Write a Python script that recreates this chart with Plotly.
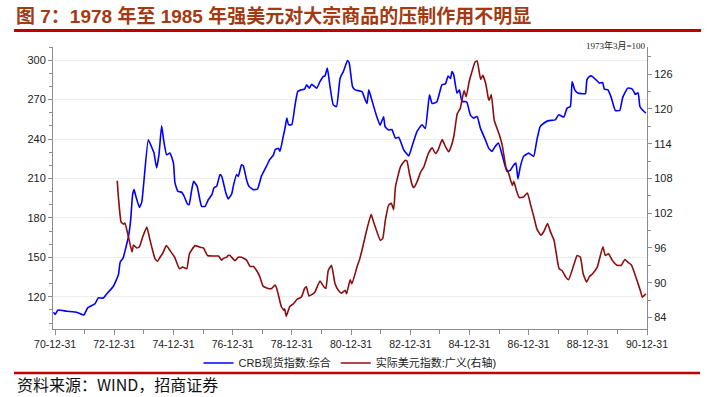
import plotly.graph_objects as go

# ---------------- data ----------------
# x positions as decimal years (1971.0 == 70-12-31)
crb_t = [1970.95, 1971.0, 1971.1, 1971.39, 1971.73, 1971.9, 1971.98, 1972.1, 1972.35, 1972.46,
         1972.63, 1972.75, 1972.97, 1973.14, 1973.2, 1973.3, 1973.48, 1973.55, 1973.62, 1973.67,
         1973.73, 1973.85, 1973.93, 1974.15, 1974.3, 1974.34, 1974.43, 1974.51, 1974.6, 1974.67,
         1974.77, 1974.88, 1975.0, 1975.05, 1975.15, 1975.28, 1975.35, 1975.47, 1975.53, 1975.6,
         1975.68, 1975.8, 1975.95, 1976.07, 1976.18, 1976.3, 1976.37, 1976.46, 1976.57, 1976.63,
         1976.77, 1976.85, 1976.97, 1977.02, 1977.13, 1977.19, 1977.3, 1977.36, 1977.47, 1977.55,
         1977.7, 1977.84, 1977.97, 1978.14, 1978.25, 1978.38, 1978.44, 1978.55, 1978.6, 1978.71,
         1978.77, 1978.83, 1978.89, 1979.0, 1979.1, 1979.2, 1979.32, 1979.43, 1979.5, 1979.59,
         1979.67, 1979.84, 1979.95, 1980.06, 1980.12, 1980.2, 1980.29, 1980.4, 1980.51, 1980.63,
         1980.74, 1980.88, 1980.94, 1981.05, 1981.14, 1981.37, 1981.48, 1981.54, 1981.6, 1981.7,
         1981.87, 1981.98, 1982.1, 1982.15, 1982.27, 1982.38, 1982.5, 1982.61, 1982.78, 1982.95,
         1983.06, 1983.23, 1983.4, 1983.51, 1983.65, 1983.74, 1983.9, 1984.07, 1984.19, 1984.28,
         1984.36, 1984.41, 1984.47, 1984.58, 1984.66, 1984.75, 1984.86, 1984.92, 1985.03, 1985.14,
         1985.26, 1985.37, 1985.54, 1985.65, 1985.76, 1985.87, 1985.98, 1986.15, 1986.27, 1986.38,
         1986.5, 1986.57, 1986.64, 1986.72, 1986.83, 1987.0, 1987.17, 1987.28, 1987.39, 1987.51,
         1987.67, 1987.9, 1988.02, 1988.19, 1988.3, 1988.41, 1988.47, 1988.56, 1988.66, 1988.8,
         1988.92, 1988.97, 1989.05, 1989.13, 1989.28, 1989.39, 1989.5, 1989.56, 1989.68, 1989.79,
         1989.93, 1990.08, 1990.18, 1990.35, 1990.49, 1990.58, 1990.6, 1990.7, 1990.76, 1990.84,
         1990.96]
crb_v = [108.3, 106.6, 109.9, 109.0, 108.3, 106.6, 106.3, 111.6, 114.7, 119.2,
         119.0, 122.3, 128.0, 136.7, 146.3, 149.6, 166.0, 177.4, 197.7, 201.5,
         196.4, 188.0, 192.0, 239.4, 231.8, 229.8, 218.0, 228.0, 250.0, 239.0,
         228.0, 229.3, 221.7, 206.6, 200.2, 199.5, 197.0, 190.8, 190.0, 199.0,
         207.8, 204.0, 188.8, 188.8, 194.0, 197.7, 203.0, 204.0, 212.9, 211.6,
         199.0, 194.5, 198.4, 204.0, 212.9, 211.6, 220.4, 219.7, 209.0, 204.0,
         201.5, 202.0, 211.6, 219.2, 224.3, 228.0, 232.0, 233.0, 230.5, 242.0,
         248.3, 255.9, 250.9, 251.0, 264.7, 276.1, 277.4, 278.0, 281.2, 278.7,
         281.7, 278.7, 283.7, 287.5, 288.0, 293.9, 279.9, 266.0, 264.7, 286.3,
         291.3, 299.7, 297.7, 279.9, 277.4, 276.0, 269.8, 267.0, 277.4, 269.8,
         257.0, 250.6, 257.0, 249.4, 246.9, 247.2, 240.7, 241.4, 231.8, 227.2,
         234.4, 245.8, 250.9, 248.0, 273.6, 267.0, 268.3, 281.2, 282.0, 288.0,
         286.0, 291.3, 288.8, 274.9, 277.4, 268.5, 268.5, 267.7, 258.4, 255.9,
         257.2, 248.3, 239.4, 233.1, 230.5, 234.4, 236.9, 224.2, 215.4, 216.2,
         220.4, 221.7, 209.6, 219.0, 226.8, 229.3, 226.8, 239.4, 249.5, 252.0,
         254.0, 254.6, 258.4, 256.7, 263.5, 264.7, 283.7, 277.4, 275.0, 274.5,
         274.5, 285.0, 287.5, 288.0, 285.0, 282.5, 283.0, 278.0, 277.4, 271.7,
         261.7, 261.7, 271.7, 278.7, 278.2, 275.1, 274.0, 275.1, 264.7, 262.2,
         259.7]

usd_t = [1973.1, 1973.14, 1973.23, 1973.31, 1973.36, 1973.48, 1973.6, 1973.65, 1973.76, 1973.85,
         1973.96, 1974.1, 1974.21, 1974.27, 1974.38, 1974.46, 1974.55, 1974.63, 1974.76, 1974.89,
         1975.04, 1975.2, 1975.31, 1975.45, 1975.54, 1975.73, 1975.9, 1976.01, 1976.15, 1976.35,
         1976.52, 1976.63, 1976.69, 1976.8, 1976.85, 1976.91, 1977.08, 1977.19, 1977.3, 1977.47,
         1977.59, 1977.7, 1977.81, 1977.92, 1978.03, 1978.2, 1978.32, 1978.43, 1978.49, 1978.65,
         1978.74, 1978.76, 1978.81, 1978.93, 1979.04, 1979.19, 1979.32, 1979.43, 1979.49, 1979.58,
         1979.77, 1979.95, 1980.08, 1980.15, 1980.23, 1980.34, 1980.46, 1980.57, 1980.68, 1980.8,
         1980.85, 1980.97, 1981.03, 1981.2, 1981.3, 1981.42, 1981.54, 1981.68, 1981.76, 1981.84,
         1981.99, 1982.07, 1982.16, 1982.27, 1982.36, 1982.44, 1982.5, 1982.67, 1982.82, 1982.89,
         1982.97, 1983.07, 1983.12, 1983.23, 1983.35, 1983.46, 1983.61, 1983.74, 1983.85, 1983.94,
         1984.08, 1984.19, 1984.3, 1984.36, 1984.47, 1984.59, 1984.69, 1984.82, 1984.89, 1984.99,
         1985.1, 1985.19, 1985.26, 1985.38, 1985.45, 1985.55, 1985.64, 1985.67, 1985.74, 1985.84,
         1986.0, 1986.11, 1986.23, 1986.33, 1986.45, 1986.5, 1986.59, 1986.68, 1986.83, 1986.96,
         1987.06, 1987.18, 1987.28, 1987.41, 1987.51, 1987.64, 1987.73, 1987.86, 1988.03, 1988.13,
         1988.25, 1988.35, 1988.53, 1988.64, 1988.75, 1988.84, 1988.96, 1989.05, 1989.17, 1989.32,
         1989.51, 1989.59, 1989.7, 1989.82, 1989.99, 1990.13, 1990.25, 1990.36, 1990.47, 1990.57,
         1990.66, 1990.79, 1990.84, 1990.96]
usd_v = [107.6, 104.8, 100.5, 100.1, 100.3, 97.9, 95.3, 96.5, 96.0, 96.2,
         97.9, 99.6, 97.3, 96.1, 94.1, 93.7, 94.4, 95.0, 96.4, 95.5,
         94.4, 92.4, 92.7, 92.4, 95.0, 96.4, 96.1, 96.0, 94.7, 94.6,
         94.6, 93.9, 94.2, 94.4, 94.7, 94.7, 93.8, 94.4, 94.4, 93.9,
         92.8, 92.8, 92.1, 91.0, 89.4, 89.0, 89.0, 89.6, 89.0, 85.8,
         85.2, 85.5, 84.2, 85.9, 86.3, 87.2, 87.5, 89.0, 89.3, 87.7,
         88.3, 90.3, 89.3, 89.0, 92.1, 93.0, 89.8, 88.7, 88.2, 88.7,
         88.1, 90.5, 89.8, 92.7, 94.2, 96.7, 99.3, 101.8, 100.5, 99.3,
         97.3, 97.6, 100.8, 103.4, 103.7, 102.6, 106.5, 110.0, 111.1, 111.0,
         108.9, 106.8, 106.4, 107.4, 109.1, 110.0, 112.3, 113.3, 112.3, 112.9,
         114.7, 113.5, 112.6, 113.2, 115.2, 119.2, 120.1, 123.2, 122.1, 124.7,
         126.7, 128.1, 128.3, 125.1, 125.8, 124.4, 121.8, 121.5, 122.5, 118.0,
         115.7, 113.7, 110.0, 108.8, 106.8, 107.5, 105.9, 104.7, 104.8, 105.5,
         103.6, 101.3, 99.3, 98.2, 98.8, 100.2, 98.9, 97.3, 92.4, 92.1,
         91.0, 90.5, 93.1, 94.7, 94.4, 91.6, 90.1, 91.0, 91.6, 92.7,
         96.2, 94.7, 95.0, 93.9, 93.0, 93.0, 94.0, 93.5, 93.1, 91.8,
         90.4, 88.4, 87.5, 88.1]

x_tick_vals = [1971, 1973, 1975, 1977, 1979, 1981, 1983, 1985, 1987, 1989, 1991]
x_tick_text = ["70-12-31", "72-12-31", "74-12-31", "76-12-31", "78-12-31", "80-12-31",
               "82-12-31", "84-12-31", "86-12-31", "88-12-31", "90-12-31"]
left_ticks = [120, 150, 180, 210, 240, 270, 300]
right_ticks = [84, 90, 96, 102, 108, 114, 120, 126]

name_crb = "CRB现货指数:综合"
name_usd = "实际美元指数:广义(右轴)"
title_text = "图 7：1978 年至 1985 年强美元对大宗商品的压制作用不明显"
source_text = "资料来源：WIND，招商证券"
base_note = "1973年3月=100"

# ---------------- layout helpers ----------------
W, H = 712, 397
L, R, T, B = 53, 65, 47, 68
PW, PH = W - L - R, H - T - B


def px(x):
    return (x - L) / PW


def py(y):
    return (H - B - y) / PH


SANS = "Liberation Sans, Arial, Noto Sans CJK SC, sans-serif"

fig = go.Figure()
fig.add_trace(go.Scatter(x=crb_t, y=crb_v, name=name_crb, mode="lines",
                         line=dict(color="#0000ff", width=1.6, shape="spline", smoothing=0.4)))
fig.add_trace(go.Scatter(x=usd_t, y=usd_v, name=name_usd, mode="lines", yaxis="y2",
                         line=dict(color="#8b0f0f", width=1.6, shape="spline", smoothing=0.4)))

axis_col = "#8c8c8c"
fig.update_layout(
    width=W, height=H,
    margin=dict(l=L, r=R, t=T, b=B),
    paper_bgcolor="white", plot_bgcolor="white",
    font=dict(family=SANS, size=11, color="#222"),
    showlegend=True,
    legend=dict(orientation="h", x=px(350), xanchor="center", y=py(363), yanchor="middle",
                font=dict(size=11, color="#222"), itemwidth=30, tracegroupgap=0,
                bgcolor="rgba(0,0,0,0)"),
    xaxis=dict(range=[1970.93, 1991.0], tickmode="array", tickvals=x_tick_vals,
               ticktext=x_tick_text, ticks="outside", ticklen=5, tickcolor=axis_col,
               showline=True, linecolor=axis_col, linewidth=1, showgrid=False, zeroline=False,
               tickfont=dict(size=10.5, color="#222"),
               minor=dict(tickmode="linear", tick0=1972, dtick=2, ticks="outside", ticklen=4,
                          tickcolor=axis_col)),
    yaxis=dict(range=[95.5, 310], tickmode="array", tickvals=left_ticks, ticks="outside",
               ticklen=4, tickcolor=axis_col, showline=True, linecolor=axis_col, linewidth=1,
               showgrid=True, gridcolor="#ececec", gridwidth=1, zeroline=False,
               tickfont=dict(size=11, color="#222"),
               minor=dict(tickmode="linear", tick0=100, dtick=10, ticks="outside", ticklen=3,
                          tickcolor=axis_col, showgrid=False)),
    yaxis2=dict(range=[82, 130.7], overlaying="y", side="right", tickmode="array",
                tickvals=right_ticks, ticks="outside", ticklen=4, tickcolor=axis_col,
                showline=True, linecolor=axis_col, linewidth=1, showgrid=False, zeroline=False,
                tickfont=dict(size=11, color="#222"),
                minor=dict(tickmode="linear", tick0=84, dtick=3, ticks="outside", ticklen=3,
                           tickcolor=axis_col)),
)

# title, rules, notes
fig.add_annotation(text="<b>" + title_text + "</b>", xref="paper", yref="paper",
                   x=px(14), y=py(16), xanchor="left", yanchor="middle", showarrow=False,
                   font=dict(family="Liberation Sans, Noto Sans CJK SC", size=19, color="#a43a12"))
fig.add_shape(type="line", xref="paper", yref="paper", x0=px(14), x1=px(701), y0=py(30.5),
              y1=py(30.5), line=dict(color="#c00000", width=3))
fig.add_shape(type="line", xref="paper", yref="paper", x0=px(14), x1=px(700), y0=py(373),
              y1=py(373), line=dict(color="#c00000", width=2.5))
fig.add_annotation(text=source_text, xref="paper", yref="paper", x=px(15), y=py(384),
                   xanchor="left", yanchor="middle", showarrow=False,
                   font=dict(family="Noto Sans CJK SC, Liberation Sans", size=16, color="#111"))
fig.add_annotation(text=base_note, xref="paper", yref="paper", x=px(648), y=py(45),
                   xanchor="right", yanchor="middle", showarrow=False,
                   font=dict(family="Liberation Serif, Noto Sans CJK SC", size=9, color="#222"))

fig.write_html("out.html", config={"displayModeBar": False},
               post_script="document.body.style.margin='0';document.body.style.overflow='hidden';")
